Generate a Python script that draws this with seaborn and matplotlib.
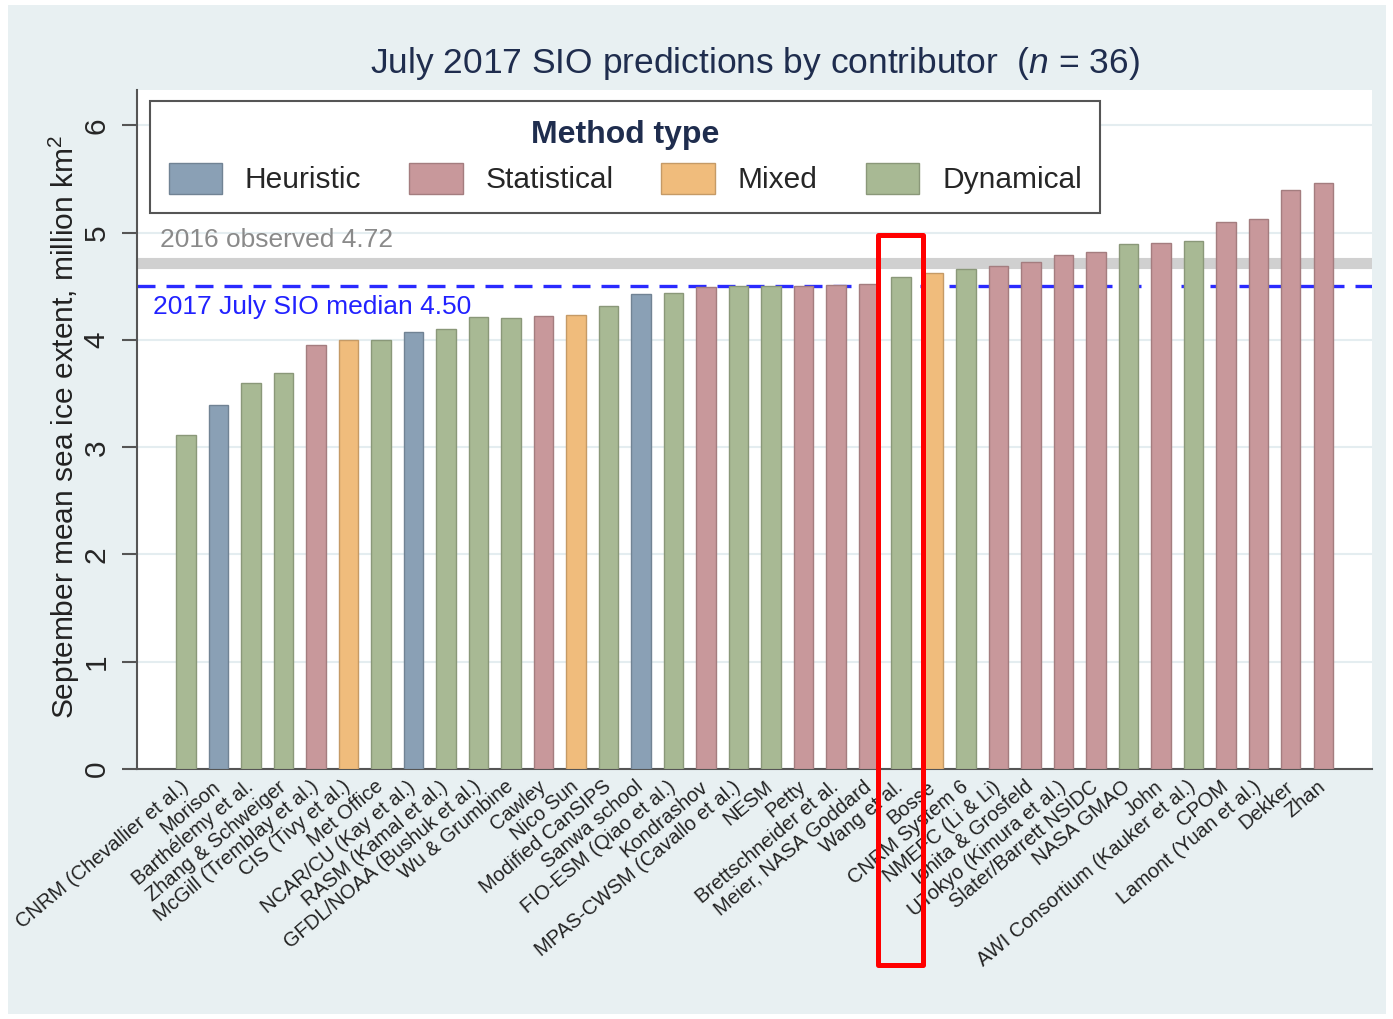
import matplotlib
matplotlib.use("Agg")
import matplotlib.pyplot as plt
import matplotlib.colors as mcolors
from matplotlib.patches import Rectangle, Patch
import numpy as np
import pandas as pd
import seaborn as sns

# Contributors, sorted by predicted September extent
contributors = [
    "CNRM (Chevallier et al.)", "Morison", "Barthélemy et al.", "Zhang & Schweiger",
    "McGill (Tremblay et al.)", "CIS (Tivy et al.)", "Met Office", "NCAR/CU (Kay et al.)",
    "RASM (Kamal et al.)", "GFDL/NOAA (Bushuk et al.)", "Wu & Grumbine", "Cawley",
    "Nico Sun", "Modified CanSIPS", "Sanwa school", "FIO-ESM (Qiao et al.)",
    "Kondrashov", "MPAS-CWSM (Cavallo et al.)", "NESM", "Petty",
    "Brettschneider et al.", "Meier, NASA Goddard", "Wang et al.", "Bosse",
    "CNRM System 6", "NMEFC (Li & Li)", "Ionita & Grosfeld", "UTokyo (Kimura et al.)",
    "Slater/Barrett NSIDC", "NASA GMAO", "John", "AWI Consortium (Kauker et al.)",
    "CPOM", "Lamont (Yuan et al.)", "Dekker", "Zhan",
]

extent = [
    3.11, 3.39, 3.60, 3.69, 3.95, 4.00, 4.00, 4.07,
    4.10, 4.21, 4.20, 4.22, 4.23, 4.32, 4.43, 4.44,
    4.49, 4.50, 4.50, 4.50, 4.51, 4.52, 4.59, 4.62,
    4.66, 4.69, 4.73, 4.79, 4.82, 4.89, 4.90, 4.92,
    5.10, 5.13, 5.40, 5.46,
]

method = [
    "Dynamical", "Heuristic", "Dynamical", "Dynamical", "Statistical", "Mixed",
    "Dynamical", "Heuristic", "Dynamical", "Dynamical", "Dynamical", "Statistical",
    "Mixed", "Dynamical", "Heuristic", "Dynamical", "Statistical", "Dynamical",
    "Dynamical", "Statistical", "Statistical", "Statistical", "Dynamical", "Mixed",
    "Dynamical", "Statistical", "Statistical", "Statistical", "Statistical", "Dynamical",
    "Statistical", "Dynamical", "Statistical", "Statistical", "Statistical", "Statistical",
]

method_types = ["Heuristic", "Statistical", "Mixed", "Dynamical"]
method_colors = ["#8aa0b5", "#c8989b", "#f0bc7c", "#a8b994"]

observed_2016 = 4.72
median_2017 = 4.50
highlighted = "Wang et al."

sns.set_style("white")
plt.rcParams["font.family"] = ["Liberation Sans", "DejaVu Sans"]
plt.rcParams["mathtext.fontset"] = "custom"
plt.rcParams["mathtext.rm"] = "Liberation Sans"
plt.rcParams["mathtext.it"] = "Liberation Sans:italic"
plt.rcParams["mathtext.bf"] = "Liberation Sans:bold"

W, H = 1393, 1019
fig = plt.figure(figsize=(W / 100, H / 100), dpi=100, facecolor="white")
fig.patches.append(Rectangle((8 / W, 5 / H), (1386 - 8) / W, (1014 - 5) / H,
                             transform=fig.transFigure, facecolor="#e8f0f2",
                             edgecolor="none", zorder=-10))

ax = fig.add_axes([137 / W, 1 - 769 / H, (1372 - 137) / W, (769 - 90) / H])
ax.set_facecolor("white")

df = pd.DataFrame({"contributor": contributors, "extent": extent, "method": method})
palette = dict(zip(method_types, method_colors))

sns.barplot(data=df, x="contributor", y="extent", hue="method",
            order=contributors, hue_order=method_types, palette=palette,
            dodge=False, width=0.6, saturation=1, legend=False, ax=ax, zorder=3)

def darker(c, f=0.82):
    r, g, b = mcolors.to_rgb(c)
    return (r * f, g * f, b * f)

for bar in ax.patches:
    bar.set_edgecolor(darker(bar.get_facecolor()))
    bar.set_linewidth(1.0)

# Reference lines
ax.axhline(observed_2016, color="#d0d0d0", lw=8, zorder=1)
ax.axhline(median_2017, color="#2a2aff", lw=2.4, ls=(0, (5.4, 3.3)), zorder=1.5)
ax.text(-0.79, 4.93, f"2016 observed {observed_2016:.2f}", color="#8a8a8a",
        fontsize=19, ha="left", va="center", zorder=4)
ax.text(-1.0, 4.31, f"2017 July SIO median {median_2017:.2f}", color="#2222ff",
        fontsize=19, ha="left", va="center", zorder=4)

# Axes styling
ax.set_xlim(-1.5, len(contributors) + 0.5)
ax.set_ylim(0, 6.33)
ax.set_yticks(range(0, 7))
ax.yaxis.grid(True, color="#e4edf0", lw=1.5)
ax.xaxis.grid(False)
ax.set_axisbelow(True)
for side in ("top", "right"):
    ax.spines[side].set_visible(False)
for side in ("left", "bottom"):
    ax.spines[side].set_color("#555555")
    ax.spines[side].set_linewidth(1.5)

ax.tick_params(axis="y", labelrotation=90, length=11, width=1.5, color="#555555",
               pad=8, labelsize=21.5, left=True)
for lab in ax.get_yticklabels():
    lab.set_va("center")
ax.tick_params(axis="x", length=0, pad=11, labelsize=14.5)
plt.setp(ax.get_xticklabels(), rotation=40, ha="right", va="center",
         rotation_mode="anchor", color="#222222")

ax.set_xlabel("")
ax.set_ylabel("September mean sea ice extent, million km$^2$", fontsize=21.5,
              color="#222222")
ax.yaxis.set_label_coords((82 - 137) / 1235, (769 - 427) / 679)

ax.text(0.5, (769 - 63) / 679,
        f"July 2017 SIO predictions by contributor  ($n$ = {len(contributors)})",
        transform=ax.transAxes, ha="center", va="center", fontsize=25.5,
        color="#1f2d4e")

# Legend
handles = [Patch(facecolor=c, edgecolor=darker(c), lw=1) for c in method_colors]
leg = ax.legend(handles, method_types, title="Method type", ncol=4,
                loc="upper left", bbox_to_anchor=((150 - 137) / 1235, (769 - 101) / 679),
                borderaxespad=0, fontsize=21.5,
                title_fontproperties={"weight": "bold", "size": 23},
                frameon=True, fancybox=False, framealpha=1, edgecolor="#555555",
                handlelength=1.8, handleheight=1.2, handletextpad=0.76,
                columnspacing=1.6, borderpad=0.62, labelspacing=0.45)
leg.get_title().set_color("#1f2d4e")
leg.get_frame().set_linewidth(1.5)
leg.set_zorder(6)

# Highlight box around one contributor
i = contributors.index(highlighted)
ax.add_patch(Rectangle((i - 0.69, -1.83), 1.38, 4.98 + 1.83, fill=False,
                       edgecolor="red", lw=3.6, joinstyle="round",
                       clip_on=False, zorder=10))

fig.savefig("out.png", dpi=100, facecolor=fig.get_facecolor())
